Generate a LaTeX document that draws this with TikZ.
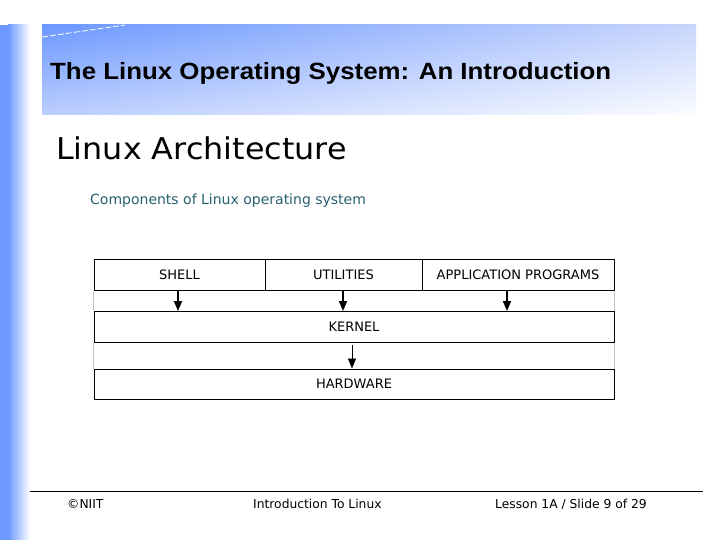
\documentclass[tikz,border=0pt]{standalone}
\usepackage{fontspec}
\setmainfont{Liberation Sans}
\newfontfamily\titlefont{Liberation Sans}
\newfontfamily\verd{DejaVu Sans}
\usetikzlibrary{arrows.meta,calc,shadings}
\definecolor{barblue}{RGB}{108,152,255}
\definecolor{hdrUR}{RGB}{200,214,252}
\definecolor{hdrLL}{RGB}{188,206,255}
\definecolor{hdrLR}{RGB}{250,252,255}
\definecolor{subteal}{RGB}{38,96,112}
\definecolor{sidegray}{RGB}{195,195,195}
\tikzset{
  layer/.style={draw=black, line width=1pt, inner sep=0pt, font=\verd\fontsize{13}{15}\selectfont},
  flow/.style={line width=1.8pt, -{Triangle[width=8pt,length=10pt]}},
  flowthin/.style={line width=0.9pt, -{Triangle[width=8pt,length=10pt]}},
  foot/.style={anchor=base west, inner sep=0pt, font=\verd\fontsize{12.3}{14}\selectfont},
}
\begin{document}
\begin{tikzpicture}[x=1pt,y=-1pt]
\useasboundingbox (0,0) rectangle (720,540);
\fill[white] (0,0) rectangle (720,540);
% left bar
\fill[barblue] (0,25) rectangle (8,540);
\shade[left color=barblue, right color=white] (8,25) rectangle (30,540);
% header band
\shade[shading=bilinear interpolation, upper left=barblue, upper right=hdrUR, lower left=hdrLL, lower right=hdrLR] (42,25) rectangle (696,115);
\draw[white, line width=0.8pt, dash pattern=on 6pt off 2pt] (42,37) -- (125,25);
% title
\node[anchor=base west, inner sep=0pt, font=\titlefont\bfseries\fontsize{23.5}{26}\selectfont] (title) at (50,80) {\scalebox{1.1}[1]{The Linux Operating System: An Introduction}};
\node[anchor=base west, inner sep=0pt, font=\verd\fontsize{30}{34}\selectfont] (heading) at (56,160) {\scalebox{1.06}[1]{Linux Architecture}};
\node[anchor=base west, inner sep=0pt, text=subteal, font=\verd\fontsize{14}{16}\selectfont] (sub) at (90,205) {Components of Linux operating system};
% diagram
\node[layer, minimum width=171pt, minimum height=31pt] (shell) at (179.5,274.5) {SHELL};
\node[layer, minimum width=157pt, minimum height=31pt] (util) at (343.5,274.5) {UTILITIES};
\node[layer, minimum width=192pt, minimum height=31pt] (app) at (518,274.5) {APPLICATION PROGRAMS};
\node[layer, minimum width=520pt, minimum height=30.5pt] (kernel) at (354,326.75) {KERNEL};
\node[layer, minimum width=520pt, minimum height=30pt] (hw) at (354,384) {HARDWARE};
% side gray lines
\draw[sidegray, line width=1pt] (shell.south west) -- (kernel.north west);
\draw[sidegray, line width=1pt] (app.south east) -- (kernel.north east);
\draw[sidegray, line width=1pt] (kernel.south west) -- (hw.north west);
\draw[sidegray, line width=1pt] (kernel.south east) -- (hw.north east);
% arrows
\draw[flow] ([xshift=-1.5pt]shell.south) -- ([xshift=-1.5pt]shell.south |- kernel.north);
\draw[flow] ([xshift=-0.5pt]util.south) -- ([xshift=-0.5pt]util.south |- kernel.north);
\draw[flow] ([xshift=-11pt]app.south) -- ([xshift=-11pt]app.south |- kernel.north);
\draw[flowthin] ([xshift=-2pt,yshift=-2.5pt]kernel.south) -- ([xshift=-2pt]kernel.south |- hw.north);
% footer
\coordinate (fl) at (30,491);
\coordinate (fr) at (703,491);
\draw[black, line width=1pt] (fl) -- (fr);
\node[foot] (copy) at (67,508) {©NIIT};
\node[foot] (course) at (253,508) {Introduction To Linux};
\node[foot] (slide) at (495,508) {Lesson 1A / Slide 9 of 29};
\end{tikzpicture}
\end{document}
